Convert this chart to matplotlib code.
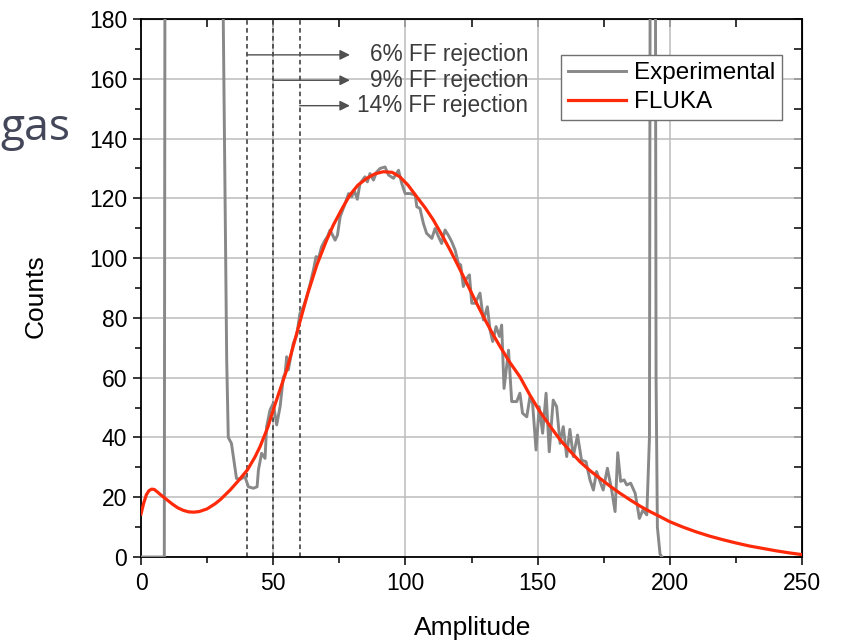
import matplotlib
matplotlib.use("Agg")
import matplotlib.pyplot as plt
from matplotlib.ticker import MultipleLocator

# experimental spectrum (values above 180 are off scale)
exp_x = [0, 8.8, 9.3, 30.6, 31.1, 32.4, 33.0, 34.2, 36.1, 37.5, 39.3, 40.6, 42.5, 43.9,
         44.4, 45.6, 46.9, 47.5, 48.8, 50.0, 51.3, 52.6, 53.8, 54.5, 55.1, 55.7, 57.6,
         58.9, 60.1, 61.4, 62.7, 64.0, 65.2, 66.2, 67.1, 68.3, 69.6, 70.5, 71.5, 73.4,
         74.3, 75.3, 77.2, 78.5, 79.7, 80.6, 81.8, 82.8, 84.7, 85.6, 86.6, 87.9, 89.1,
         90.4, 92.3, 93.6, 95.5, 97.4, 98.6, 99.9, 101.8, 103.7, 104.3, 105.5, 106.8,
         108.0, 110.0, 111.2, 112.5, 113.7, 115.0, 116.2, 117.5, 118.8, 120.0, 120.9,
         121.9, 123.2, 124.2, 125.1, 126.4, 128.2, 129.5, 131.0, 132.0, 133.0, 134.3,
         135.6, 136.4, 137.3, 139.0, 140.2, 142.1, 143.3, 144.3, 145.9, 147.1, 148.1,
         149.4, 150.6, 151.9, 153.2, 154.4, 155.9, 157.2, 158.5, 159.7, 161.0, 162.2,
         163.5, 165.1, 166.6, 168.3, 169.8, 171.1, 172.3, 173.6, 174.8, 176.4, 178.0,
         179.3, 180.3, 181.4, 182.7, 183.7, 185.2, 186.9, 188.5, 189.8, 191.3, 192.3,
         192.9, 194.2, 194.8, 195.3, 196.3, 197.0]
exp_y = [0, 0, 400, 400, 180, 66, 40, 38, 26.3, 26, 26.9, 23.5, 23, 23.5,
         29.1, 34.7, 33, 43.6, 49.2, 51.4, 44.2, 50.3, 60, 61.5, 67.0, 62.6, 71.5,
         74.3, 81.5, 83.7, 87.1, 91.5, 96, 100.5, 99.9, 103.8, 106, 107.2, 109.4, 106,
         107.7, 113.8, 118.3, 121.6, 120.5, 122.8, 119.7, 124.9, 127.2, 125.5, 128.3, 126.1, 128.8,
         130, 130.5, 127.8, 126.7, 129.4, 125, 121.6, 121.6, 121.1, 117.2, 116.6, 111.6,
         108.3, 106.6, 109.9, 107.2, 104.9, 109.4, 107.7, 105.5, 102.7, 98.3, 97.7,
         90.5, 93.3, 94.4, 84.9, 84.9, 88.3, 79.3, 83.7, 76, 72.1, 77.1,
         73.8, 77.6, 56.4, 69.2, 52, 52, 54.8, 48.1, 46.9, 53.6, 51.4,
         35.8, 50.3, 41.4, 54.8, 35.2, 52.5, 50.3, 38, 43.6, 33.6, 42.7,
         33.6, 40.8, 32.4, 31.9, 25.8, 22.4, 28.6, 25.3, 22.4, 29.7, 22.4,
         15.2, 34.9, 25.3, 25.8, 24.1, 24.7, 21.3, 12.9, 15.7, 14.1, 40,
         400, 400, 60, 10, 1, 0]

# FLUKA simulation
fluka_x = [0, 1, 2, 3, 4, 5, 6, 8, 10, 12, 14, 16, 18, 20, 22, 25, 28, 30, 33.7, 37,
           40.2, 43, 45, 48, 50.4, 55.1, 60.1, 63, 66.5, 70, 72.7, 76, 79, 82, 85.4,
           88.5, 91.6, 95, 97.9, 101, 104.3, 107.5, 110.6, 113.7, 116.9, 120, 123.2,
           126.3, 129.5, 132.6, 135.8, 139.5, 143.3, 147, 150.9, 154.7, 158.5, 162.3,
           166, 169.8, 173.6, 177.4, 181.2, 185, 188.8, 192.5, 196.3, 200, 205, 210,
           215, 220, 225, 230, 235, 240, 245, 250]
fluka_y = [14.4, 18.0, 20.8, 22.2, 22.7, 22.6, 21.9, 20.4, 19.0, 17.6, 16.4, 15.6, 15.1, 15.0, 15.2, 16.1, 17.8, 19.2, 22.4, 25.7,
           29.1, 33.3, 36.9, 43.5, 50.3, 62.6, 78.7, 88.0, 97.7, 105.6, 111.0, 116.5, 121.1, 124.4, 126.7,
           128.2, 128.9, 128.7, 127.2, 124.4, 120.5, 116.8, 112.7, 107.9, 102.7, 97.3, 91.6,
           86.0, 80.4, 75.3, 70.4, 65.1, 60.3, 54.3, 48.6, 43.8, 39.2, 35.4,
           31.9, 28.9, 26.3, 23.7, 21.3, 19.1, 17.0, 15.2, 13.5, 11.8, 10.0, 8.4,
           7.0, 5.8, 4.7, 3.7, 2.9, 2.1, 1.4, 0.8]

cut_x = [40, 50, 60]
cut_y = [168, 159.5, 151]
cut_labels = ["6% FF rejection", "9% FF rejection", "14% FF rejection"]

plt.rcParams['font.family'] = ['Liberation Sans', 'DejaVu Sans']

fig = plt.figure(figsize=(8.42, 6.42), dpi=100)
ax = fig.add_axes([0.1675, 0.1324, 0.785, 0.838])

ax.set_xlim(0, 250)
ax.set_ylim(0, 180)
ax.xaxis.set_major_locator(MultipleLocator(50))
ax.xaxis.set_minor_locator(MultipleLocator(25))
ax.yaxis.set_major_locator(MultipleLocator(20))
ax.yaxis.set_minor_locator(MultipleLocator(10))
ax.grid(True, which='major', color='#bcbcbc', lw=1.1, zorder=0)
ax.set_axisbelow(True)

for cx in cut_x:
    ax.plot([cx, cx], [0, 180], color='#333333', lw=1.1, ls=(0, (3, 2.2)), zorder=2)

ax.plot(exp_x, exp_y, color='#888888', lw=2.1, label='Experimental', zorder=3)
ax.plot(fluka_x, fluka_y, color='#ff2a0a', lw=2.3, label='FLUKA', zorder=4)

for cx, cy, lab in zip(cut_x, cut_y, cut_labels):
    ax.annotate('', xy=(79, cy), xytext=(cx, cy),
                arrowprops=dict(arrowstyle='-|>', color='#505050', lw=1.0,
                                mutation_scale=15, shrinkA=0, shrinkB=0), zorder=5)
    ax.text(146.5, cy, lab, ha='right', va='center', fontsize=16.3, color='#3c3c3c', zorder=5)

leg = ax.legend(loc='upper right', bbox_to_anchor=(0.970, 0.933), borderaxespad=0,
                fontsize=17.5, fancybox=False, edgecolor='#707070', framealpha=1,
                handlelength=2.4, handletextpad=0.3, labelspacing=0.28,
                borderpad=0.3)
leg.get_frame().set_linewidth(1.0)

# bottom / left ticks point out, labelled
ax.tick_params(axis='both', which='major', direction='out', length=6, width=1.1, labelsize=16.5)
ax.tick_params(axis='both', which='minor', direction='out', length=4, width=1.1)
ax.tick_params(axis='x', pad=5)
ax.tick_params(axis='y', pad=4)

# top / right ticks point in, no labels
top = ax.secondary_xaxis('top')
top.xaxis.set_major_locator(MultipleLocator(50))
top.xaxis.set_minor_locator(MultipleLocator(25))
top.tick_params(which='both', direction='in', length=6, width=1.1, labeltop=False)
right = ax.secondary_yaxis('right')
right.yaxis.set_major_locator(MultipleLocator(20))
right.yaxis.set_minor_locator(MultipleLocator(10))
right.tick_params(which='both', direction='in', length=6, width=1.1, labelright=False)

for s in ax.spines.values():
    s.set_linewidth(1.3)

ax.set_xlabel('Amplitude', fontsize=19)
ax.set_ylabel('Counts', fontsize=19)
ax.xaxis.set_label_coords(0.502, -0.11)
ax.yaxis.set_label_coords(-0.142, 0.485)

fig.text(0.0, 0.80, 'gas', fontsize=32, color='#44475a', family='Open Sans',
         ha='left', va='center')

fig.savefig('out.png', dpi=100)
